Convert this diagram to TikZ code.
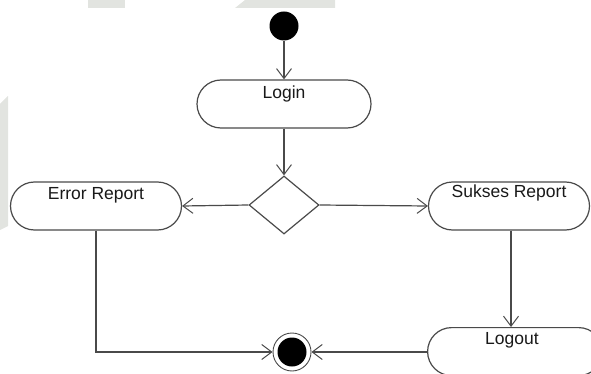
\documentclass[tikz,border=0pt]{standalone}
\usepackage{fontspec}
\setmainfont{Liberation Sans}
\usetikzlibrary{arrows.meta,shapes.geometric}
\definecolor{ln}{HTML}{4A4A4A}
\definecolor{wm}{HTML}{E2E4E0}
\tikzset{
  act/.style={draw=ln, line width=1.2pt, fill=white, rounded corners=24pt, minimum height=48pt, inner sep=0pt},
  txt/.style={font=\fontsize{17.5}{20}\selectfont, text=black!90, inner sep=0pt},
  flow/.style={draw=ln, line width=1.2pt, -{Straight Barb[length=10pt,width=15pt,line width=1pt]}},
  plain/.style={draw=ln, line width=1.2pt},
}
\begin{document}
\begin{tikzpicture}[x=1pt,y=-1pt]
\useasboundingbox (0,0) rectangle (591,374);
\clip (0,0) rectangle (591,374);
% faint watermark patches
\fill[wm] (88,0) rectangle (125,8);
\fill[wm] (235,8) -- (245,0) -- (335,0) -- (335,8) -- cycle;
\fill[wm] (0,104) -- (8,96) -- (8,226) -- (0,230) -- cycle;
% nodes
\node[circle, fill=black, minimum size=29pt, inner sep=0pt] (start) at (284,26) {};
\node[act, minimum width=174pt] (login) at (284,104) {};
\node[txt] (logintxt) at ([yshift=10pt]login.center) {Login};
\node[diamond, draw=ln, line width=1.2pt, fill=white, minimum width=70pt, minimum height=58pt, inner sep=0pt] (dec) at (284,205) {};
\node[act, minimum width=171pt] (err) at (96,206) {};
\node[txt] (errtxt) at ([yshift=11pt]err.center) {Error Report};
\node[act, minimum width=161pt] (suk) at (509,206) {};
\node[txt] (suktxt) at ([yshift=13pt]suk.center) {Sukses Report};
\node[act, minimum width=175pt, anchor=north west] (out) at (427,327) {};
\coordinate (outtxtpos) at (512,340);
\node[txt] (outtxt) at (outtxtpos) {Logout};
\node[circle, draw=ln, line width=0.9pt, fill=white, minimum size=38pt, inner sep=0pt] (fin) at (292,352) {};
\node[circle, fill=black, minimum size=29pt, inner sep=0pt] (fincore) at (fin.center) {};
% connectors
\draw[flow] (start) -- (login);
\draw[flow] (login) -- (dec.north);
\draw[flow] (dec.west) -- (err.east);
\draw[flow] (dec.east) -- (suk.west);
\draw[flow] (suk.south -| 511,0) -- (out.north -| 511,0);
\draw[flow] (err.south) |- (fin.west);
\draw[flow] (out.west |- fin.east) -- (fin.east);
\end{tikzpicture}
\end{document}
